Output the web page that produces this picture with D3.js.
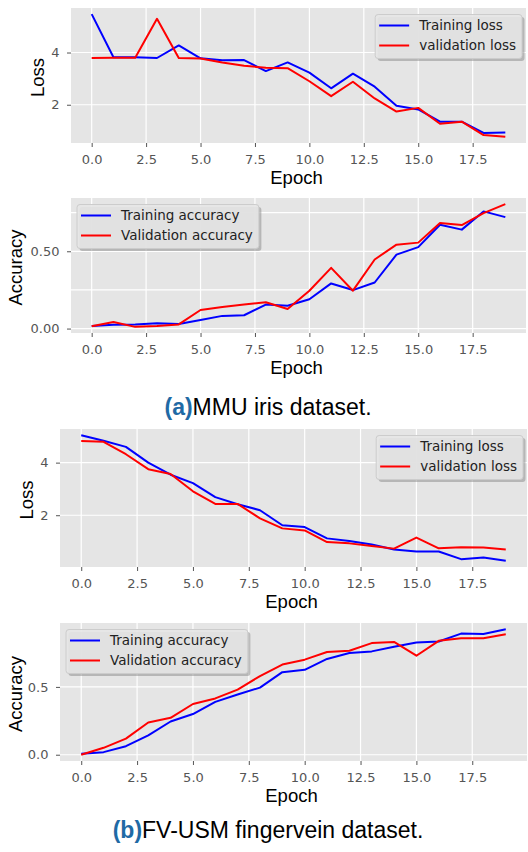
<!DOCTYPE html>
<html>
<head>
<meta charset="utf-8">
<script src="https://cdn.jsdelivr.net/npm/d3@7"></script>
<style>
  body { margin: 0; background: #fff; }
  .tick text { font-family: "DejaVu Sans", sans-serif; font-size: 13px; fill: #555; }
  .tick line { stroke: #555; stroke-width: 1; }
  .domain { display: none; }
  .axisText { font-family: "Liberation Sans", Arial, sans-serif; font-size: 18.5px; fill: #000; }
  .legText { font-family: "DejaVu Sans", sans-serif; font-size: 13.5px; fill: #222; }
  .caption { font-family: "Liberation Sans", Arial, sans-serif; font-size: 23px; fill: #000; }
</style>
</head>
<body>
<div id="chart"></div>
<script>
var svgWidth = 528;
var svgHeight = 852;

// epochs and tick values
var epochs = [0, 1, 2, 3, 4, 5, 6, 7, 8, 9, 10, 11, 12, 13, 14, 15, 16, 17, 18, 19];
var xTicks = [0, 2.5, 5, 7.5, 10, 12.5, 15, 17.5];

// (a) MMU iris
var irisTrainLoss = [5.47, 3.82, 3.82, 3.79, 4.27, 3.78, 3.70, 3.71, 3.29, 3.62, 3.23, 2.63, 3.19, 2.69, 1.96, 1.82, 1.35, 1.35, 0.92, 0.94];
var irisValLoss = [3.79, 3.80, 3.80, 5.29, 3.79, 3.77, 3.62, 3.49, 3.42, 3.40, 2.90, 2.33, 2.88, 2.24, 1.74, 1.88, 1.27, 1.35, 0.84, 0.77];
var irisTrainAcc = [0.017, 0.024, 0.027, 0.034, 0.030, 0.055, 0.082, 0.086, 0.155, 0.148, 0.190, 0.292, 0.249, 0.298, 0.478, 0.527, 0.672, 0.640, 0.758, 0.721];
var irisValAcc = [0.015, 0.043, 0.011, 0.016, 0.027, 0.120, 0.140, 0.155, 0.170, 0.127, 0.245, 0.393, 0.245, 0.447, 0.543, 0.556, 0.683, 0.670, 0.747, 0.805];

// (b) FV-USM fingervein
var fvTrainLoss = [5.04, 4.83, 4.60, 4.00, 3.54, 3.22, 2.69, 2.42, 2.19, 1.62, 1.55, 1.12, 1.02, 0.89, 0.70, 0.62, 0.62, 0.33, 0.39, 0.27];
var fvValLoss = [4.82, 4.79, 4.32, 3.75, 3.57, 2.91, 2.43, 2.43, 1.88, 1.50, 1.42, 0.98, 0.93, 0.83, 0.73, 1.15, 0.74, 0.78, 0.77, 0.70];
var fvTrainAcc = [0.007, 0.019, 0.063, 0.143, 0.245, 0.300, 0.390, 0.444, 0.495, 0.609, 0.626, 0.706, 0.750, 0.762, 0.796, 0.828, 0.835, 0.893, 0.890, 0.925];
var fvValAcc = [0.000, 0.051, 0.119, 0.238, 0.272, 0.374, 0.415, 0.480, 0.580, 0.665, 0.701, 0.757, 0.767, 0.823, 0.832, 0.730, 0.840, 0.859, 0.859, 0.888];

var svg = d3.select("#chart")
  .append("svg")
  .attr("width", svgWidth)
  .attr("height", svgHeight);

function drawPanel(p) {
  var g = svg.append("g");

  // matplotlib-like 5% margins
  var all = p.series[0].values.concat(p.series[1].values);
  var yMin = d3.min(all), yMax = d3.max(all);
  var pad = (yMax - yMin) * 0.05;

  var xScale = d3.scaleLinear()
    .domain([-0.95, 19.95])
    .range([p.left, p.right]);

  var yScale = d3.scaleLinear()
    .domain([yMin - pad, yMax + pad])
    .range([p.bottom, p.top]);

  // background
  g.append("rect")
    .attr("x", p.left)
    .attr("y", p.top)
    .attr("width", p.right - p.left)
    .attr("height", p.bottom - p.top)
    .attr("fill", "#e5e5e5");

  // grid
  g.selectAll(".vgrid")
    .data(xTicks)
    .enter()
    .append("line")
    .attr("x1", d => xScale(d))
    .attr("x2", d => xScale(d))
    .attr("y1", p.top)
    .attr("y2", p.bottom)
    .attr("stroke", "#fff")
    .attr("stroke-width", 1.2);

  g.selectAll(".hgrid")
    .data(p.gridY)
    .enter()
    .append("line")
    .attr("x1", p.left)
    .attr("x2", p.right)
    .attr("y1", d => yScale(d))
    .attr("y2", d => yScale(d))
    .attr("stroke", "#fff")
    .attr("stroke-width", 1.2);

  // axes
  g.append("g")
    .attr("transform", `translate(0,${p.bottom})`)
    .call(d3.axisBottom(xScale).tickValues(xTicks).tickFormat(d3.format(".1f")).tickSize(4).tickPadding(8));

  g.append("g")
    .attr("transform", `translate(${p.left},0)`)
    .call(d3.axisLeft(yScale).tickValues(p.yTicks).tickFormat(d3.format(p.yFormat)).tickSize(4).tickPadding(7.5));

  // lines
  var line = d3.line()
    .x((d, i) => xScale(epochs[i]))
    .y(d => yScale(d));

  p.series.forEach(function(s) {
    g.append("path")
      .datum(s.values)
      .attr("fill", "none")
      .attr("stroke", s.color)
      .attr("stroke-width", 2)
      .attr("stroke-linejoin", "round")
      .attr("d", line);
  });

  // axis labels
  g.append("text")
    .attr("class", "axisText")
    .attr("text-anchor", "middle")
    .attr("x", (p.left + p.right) / 2 - 2)
    .attr("y", p.bottom + 41)
    .text("Epoch");

  g.append("text")
    .attr("class", "axisText")
    .attr("text-anchor", "middle")
    .attr("transform", `translate(${p.ylabelX}, ${(p.top + p.bottom) / 2 + 2}) rotate(-90)`)
    .attr("dy", "0.35em")
    .text(p.ylabel);

  // legend
  var leg = g.append("g");
  var shadow = leg.append("rect");
  var box = leg.append("rect");
  var texts = [];
  p.series.forEach(function(s, i) {
    texts.push(leg.append("text")
      .attr("class", "legText")
      .attr("x", 0)
      .attr("y", 11 + i * 20)
      .attr("dy", "0.35em")
      .text(s.name));
  });
  var textW = d3.max(texts, t => t.node().getComputedTextLength());
  var boxW = 4 + 30 + 10 + textW + 6;
  var boxH = 44;
  var bx = p.legendSide === "right" ? p.right - 4 - boxW : p.left + 6;
  var by = p.top + 6.5;

  shadow.attr("x", bx + 2.5).attr("y", by + 2.5)
    .attr("width", boxW).attr("height", boxH)
    .attr("rx", 3).attr("fill", "#888").attr("opacity", 0.5);
  box.attr("x", bx).attr("y", by)
    .attr("width", boxW).attr("height", boxH)
    .attr("rx", 3).attr("fill", "#e5e5e5").attr("fill-opacity", 0.9)
    .attr("stroke", "#cccccc").attr("stroke-width", 1);

  p.series.forEach(function(s, i) {
    var yy = by + 11 + i * 20;
    leg.append("line")
      .attr("x1", bx + 4).attr("x2", bx + 34)
      .attr("y1", yy).attr("y2", yy)
      .attr("stroke", s.color).attr("stroke-width", 2);
    texts[i].attr("x", bx + 44).attr("y", yy);
  });
}

drawPanel({
  left: 71, right: 526, top: 8, bottom: 143,
  series: [
    { name: "Training loss", values: irisTrainLoss, color: "#0000ff" },
    { name: "validation loss", values: irisValLoss, color: "#ff0000" }
  ],
  gridY: [2, 4], yTicks: [2, 4], yFormat: "d",
  ylabel: "Loss", ylabelX: 38, legendSide: "right"
});

drawPanel({
  left: 71, right: 526, top: 198, bottom: 333,
  series: [
    { name: "Training accuracy", values: irisTrainAcc, color: "#0000ff" },
    { name: "Validation accuracy", values: irisValAcc, color: "#ff0000" }
  ],
  gridY: [0, 0.25, 0.5, 0.75], yTicks: [0, 0.5], yFormat: ".2f",
  ylabel: "Accuracy", ylabelX: 16, legendSide: "left"
});

drawPanel({
  left: 60, right: 527, top: 429, bottom: 567,
  series: [
    { name: "Training loss", values: fvTrainLoss, color: "#0000ff" },
    { name: "validation loss", values: fvValLoss, color: "#ff0000" }
  ],
  gridY: [2, 4], yTicks: [2, 4], yFormat: "d",
  ylabel: "Loss", ylabelX: 27, legendSide: "right"
});

drawPanel({
  left: 60, right: 527, top: 623, bottom: 761,
  series: [
    { name: "Training accuracy", values: fvTrainAcc, color: "#0000ff" },
    { name: "Validation accuracy", values: fvValAcc, color: "#ff0000" }
  ],
  gridY: [0, 0.5], yTicks: [0, 0.5], yFormat: ".1f",
  ylabel: "Accuracy", ylabelX: 16, legendSide: "left"
});

// captions
function caption(label, rest, y) {
  var t = svg.append("text")
    .attr("class", "caption")
    .attr("text-anchor", "middle")
    .attr("x", 268)
    .attr("y", y);
  t.append("tspan").attr("font-weight", "bold").attr("fill", "#1f6aa5").text(label);
  t.append("tspan").text(rest);
}
caption("(a)", "MMU iris dataset.", 415);
caption("(b)", "FV-USM fingervein dataset.", 838);
</script>
</body>
</html>
